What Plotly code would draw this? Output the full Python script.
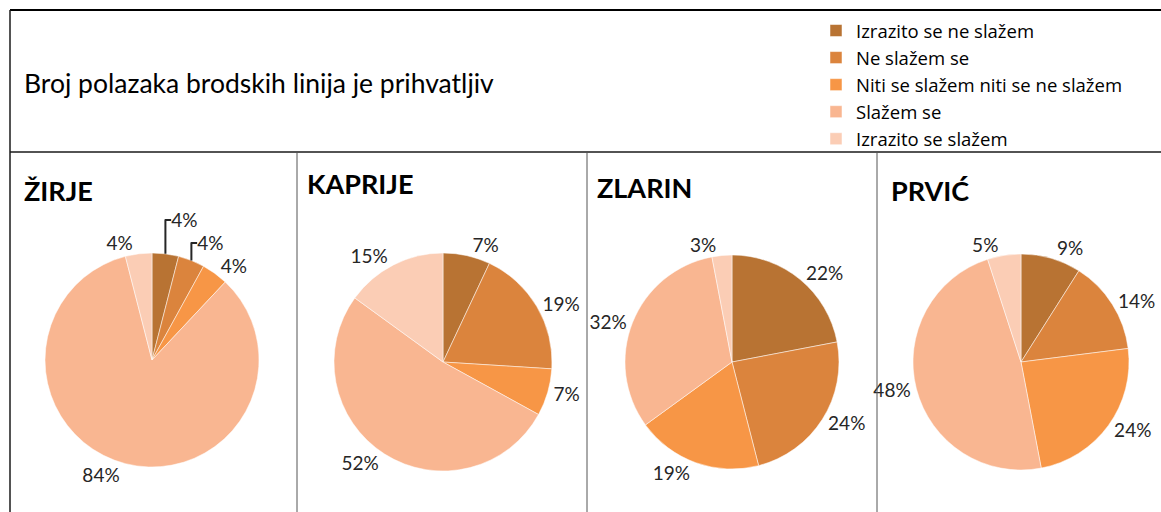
import plotly.graph_objects as go

categories = ["Izrazito se ne slažem", "Ne slažem se", "Niti se slažem niti se ne slažem",
              "Slažem se", "Izrazito se slažem"]
islands = ["ŽIRJE", "KAPRIJE", "ZLARIN", "PRVIĆ"]
zirje = [4, 4, 4, 84, 4]
kaprije = [7, 19, 7, 52, 15]
zlarin = [22, 24, 19, 32, 3]
prvic = [9, 14, 24, 48, 5]
series = [zirje, kaprije, zlarin, prvic]
colors = ["#B87333", "#DB843D", "#F79646", "#F9B691", "#FBCDB5"]
title_text = "Broj polazaka brodskih linija je prihvatljiv"

W, H = 1161, 512
FONT = "Lato"

# pie geometry in pixels (center x, center y, radius)
geom = [(152, 360, 107), (443, 362, 109), (732, 362, 107), (1021, 362, 108)]
title_pos = [(22, 190), (305, 183), (595, 187), (889, 190)]

fig = go.Figure()
for i, (name, vals) in enumerate(zip(islands, series)):
    cx, cy, r = geom[i]
    fig.add_trace(go.Pie(
        labels=categories, values=vals, name=name,
        marker=dict(colors=colors, line=dict(color="white", width=0.5)),
        sort=False, direction="clockwise", rotation=0,
        texttemplate="%{value}%", textposition="outside",
        textfont=dict(family=FONT, size=19, color="#262626"),
        showlegend=(i == 0), hoverinfo="label+value",
        domain=dict(x=[(cx - r) / W, (cx + r) / W], y=[(H - cy - r) / H, (H - cy + r) / H]),
    ))

annotations = [dict(text=title_text, x=22 / W, y=1 - 83 / H, xref="paper", yref="paper",
                    xanchor="left", yanchor="middle", showarrow=False,
                    font=dict(family=FONT, size=26.5, color="#000"))]
for (tx, ty), name in zip(title_pos, islands):
    annotations.append(dict(text="<b>" + name + "</b>", x=tx / W, y=1 - ty / H,
                            xref="paper", yref="paper", xanchor="left", yanchor="middle",
                            showarrow=False, font=dict(family=FONT, size=27, color="#000")))

line = dict(color="#1a1a1a", width=1.5)
shapes = [
    dict(type="line", xref="paper", yref="paper", x0=10 / W, x1=1, y0=1 - 10 / H, y1=1 - 10 / H, line=dict(color="#000", width=2)),
    dict(type="line", xref="paper", yref="paper", x0=10 / W, x1=1, y0=1 - 152 / H, y1=1 - 152 / H, line=line),
    dict(type="line", xref="paper", yref="paper", x0=10 / W, x1=10 / W, y0=0, y1=1 - 10 / H, line=line),
]
for vx in [297, 587, 877]:
    shapes.append(dict(type="line", xref="paper", yref="paper", x0=vx / W, x1=vx / W,
                       y0=0, y1=1 - 152 / H, line=dict(color="#555", width=1)))

fig.update_layout(
    width=W, height=H, margin=dict(l=0, r=0, t=0, b=0),
    paper_bgcolor="white", plot_bgcolor="white",
    annotations=annotations, shapes=shapes,
    legend=dict(x=816 / W, y=1 - 12 / H, xanchor="left", yanchor="top",
                font=dict(family="Open Sans", size=18.5, color="#000"),
                bgcolor="rgba(0,0,0,0)", tracegroupgap=0, itemwidth=30),
)

fig.write_html("out.html", post_script="document.body.style.margin='0px';",
               config={"displayModeBar": False})
